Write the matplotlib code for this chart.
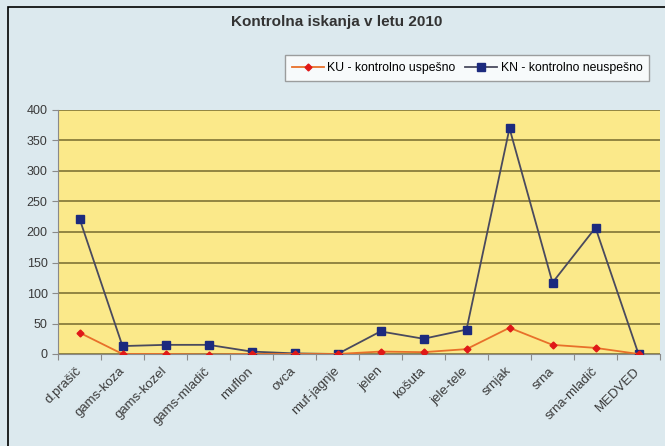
import matplotlib
matplotlib.use("Agg")
import matplotlib.pyplot as plt
from matplotlib.patches import Rectangle
import numpy as np

plt.rcParams["font.family"] = ["Liberation Sans", "DejaVu Sans"]

categories = ["d.prašič", "gams-koza", "gams-kozel", "gams-mladič", "muflon", "ovca",
              "muf-jagnje", "jelen", "košuta", "jele-tele", "srnjak", "srna",
              "srna-mladič", "MEDVED"]
ku = [35, 0, 0, -1, 0, 0, 0, 4, 3, 8, 43, 15, 10, 0]
kn = [222, 13, 15, 15, 4, 1, 0, 37, 25, 40, 370, 117, 207, 0]
yticks = [0, 50, 100, 150, 200, 250, 300, 350, 400]

W, H = 665, 446
fig = plt.figure(figsize=(W / 100, H / 100), dpi=100)
fig.patch.set_facecolor("#dce9ee")
fig.patches.append(Rectangle((8 / W, -0.05), 1.0, 1 - 7 / H + 0.05, transform=fig.transFigure,
                             fill=False, edgecolor="black", linewidth=1.2))

ax = fig.add_axes([58 / W, 1 - 354 / H, (660 - 58) / W, (354 - 110) / H])
ax.set_facecolor("#fbe98a")
x = np.arange(len(categories))
ax.set_xlim(-0.5, len(categories) - 0.5)
ax.set_ylim(0, 400)
ax.set_yticks(yticks)
ax.yaxis.grid(True, color="#8a7d3c", linewidth=1.3)
ax.set_axisbelow(True)
for s in ["top", "right"]:
    ax.spines[s].set_visible(False)
ax.spines["left"].set_color("#8a8a8a")
ax.spines["bottom"].set_color("#8a8a8a")

l1, = ax.plot(x, ku, color="#e8702a", linewidth=1.3, marker="D", markersize=3.5,
              markerfacecolor="#e01818", markeredgecolor="#e01818",
              label="KU - kontrolno uspešno", zorder=4)
l2, = ax.plot(x, kn, color="#4a4a5e", linewidth=1.3, marker="s", markersize=6,
              markerfacecolor="#1c2a7e", markeredgecolor="#1c2a7e",
              label="KN - kontrolno neuspešno", zorder=3)

ax.set_xticks(np.arange(len(categories) + 1) - 0.5, minor=False)
ax.set_xticklabels([])
ax.set_xticks(x, minor=True)
ax.set_xticklabels(categories, minor=True, rotation=45, ha="right", va="center",
                   rotation_mode="anchor", fontsize=9.5, color="#3a3a3a")
ax.tick_params(axis="x", which="minor", length=0, pad=11)
ax.tick_params(axis="x", which="major", length=4, color="#8a8a8a", direction="out")
ax.tick_params(axis="y", length=4, color="#8a8a8a", labelsize=9, labelcolor="#3a3a3a")

fig.text(0.5 * (8 + W) / W, 1 - 22 / H, "Kontrolna iskanja v letu 2010", ha="center", va="center",
         fontsize=11, fontweight="bold", color="#333333")

leg = fig.legend(handles=[l1, l2], loc="upper left", bbox_to_anchor=(279 / W, 1 - 49 / H),
                 ncol=2, fontsize=8.8, frameon=True, fancybox=False, handlelength=2.6,
                 columnspacing=0.8, handletextpad=0.3, borderpad=0.55)
leg.get_frame().set_edgecolor("#888888")
leg.get_frame().set_facecolor("white")

fig.savefig("out.png", dpi=100, facecolor=fig.get_facecolor())
